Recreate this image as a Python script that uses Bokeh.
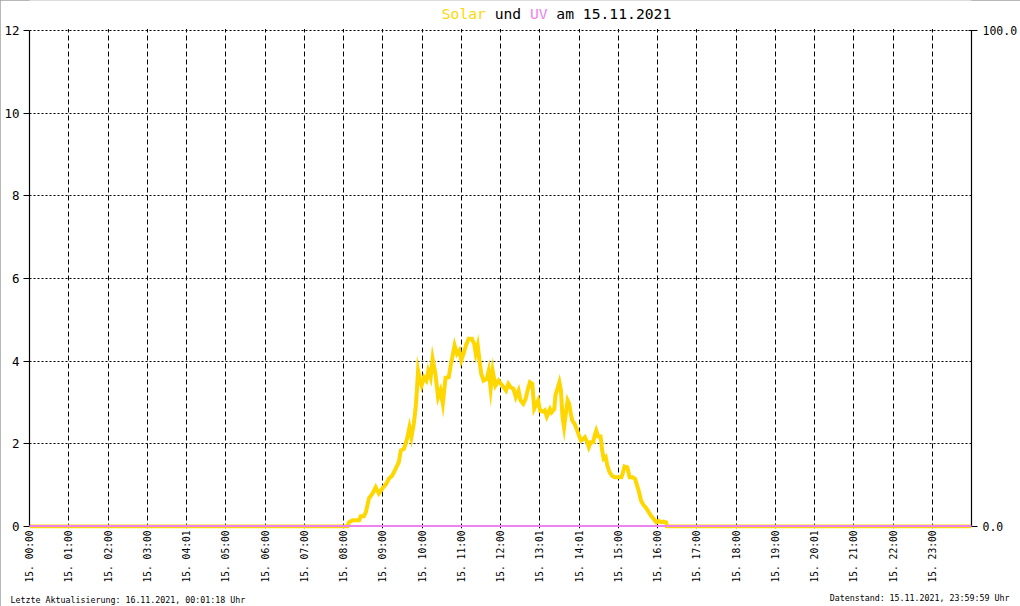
import math
from bokeh.plotting import figure
from bokeh.core.properties import value
from bokeh.models import (Range1d, LinearAxis, FixedTicker, NumeralTickFormatter,
                          Label, LabelSet, ColumnDataSource, BoxAnnotation,
                          GlobalInlineStyleSheet)
from bokeh.embed import file_html
from bokeh.resources import INLINE

# ---------------- data ----------------
hour_ticks = list(range(24))
hour_labels = ["00:00", "01:00", "02:00", "03:00", "04:01", "05:00", "06:00", "07:00",
               "08:00", "09:00", "10:00", "11:00", "12:00", "13:01", "14:01", "15:00",
               "16:00", "17:00", "18:00", "19:00", "20:01", "21:00", "22:00", "23:00"]
day_prefix = "15. "

solar_hours = [0.0, 8.10, 8.14, 8.23, 8.40, 8.44, 8.52, 8.57, 8.65, 8.74, 8.82, 8.90, 8.99,
               9.08, 9.16, 9.24, 9.33, 9.41, 9.46, 9.54, 9.62, 9.68, 9.73, 9.79, 9.84,
               9.87, 9.90, 9.95, 9.99, 10.05, 10.11, 10.16, 10.22, 10.27, 10.34, 10.41,
               10.47, 10.53, 10.60, 10.68, 10.74, 10.79, 10.83, 10.89, 10.95, 11.00,
               11.06, 11.12, 11.19, 11.27, 11.33, 11.37, 11.42, 11.47, 11.51, 11.57,
               11.65, 11.70, 11.75, 11.80, 11.87, 11.95, 12.01, 12.08, 12.14, 12.20,
               12.26, 12.33, 12.39, 12.46, 12.51, 12.58, 12.64, 12.69, 12.75, 12.81,
               12.86, 12.92, 12.96, 13.01, 13.09, 13.13, 13.18, 13.26, 13.30, 13.37,
               13.40, 13.45, 13.50, 13.54, 13.58, 13.62, 13.67, 13.71, 13.75, 13.79,
               13.83, 13.89, 13.94, 14.00, 14.05, 14.11, 14.15, 14.21, 14.25, 14.30,
               14.36, 14.40, 14.44, 14.49, 14.55, 14.59, 14.63, 14.68, 14.72, 14.78,
               14.84, 14.91, 14.99, 15.08, 15.12, 15.16, 15.23, 15.29, 15.37, 15.43,
               15.48, 15.52, 15.58, 15.65, 15.71, 15.75, 15.80, 15.86, 15.92, 15.97,
               16.03, 16.09, 16.15, 16.22, 16.24, 24.0]
solar_values = [0.0, 0.0, 0.10, 0.15, 0.15, 0.25, 0.25, 0.35, 0.68, 0.80, 0.95, 0.80, 0.92,
                1.02, 1.16, 1.23, 1.40, 1.56, 1.84, 1.88, 2.12, 2.40, 2.16, 2.48, 2.89,
                3.29, 3.77, 3.53, 3.41, 3.61, 3.53, 3.77, 3.60, 4.06, 3.70, 3.13,
                3.29, 2.97, 3.60, 3.61, 3.94, 4.18, 4.38, 4.18, 4.26, 4.02,
                4.18, 4.38, 4.54, 4.54, 4.42, 4.18, 4.38, 3.98, 3.69, 3.53,
                3.57, 3.77, 3.33, 3.77, 3.41, 3.53, 3.45, 3.37, 3.29, 3.45,
                3.37, 3.33, 3.13, 3.29, 3.05, 2.97, 3.09, 3.29, 3.49, 3.45,
                2.85, 2.97, 3.05, 2.80, 2.78, 2.81, 2.66, 2.84, 2.76, 2.84,
                3.17, 3.33, 3.49, 3.29, 2.65, 2.40, 2.78, 3.05, 2.97, 2.73,
                2.56, 2.48, 2.36, 2.20, 2.08, 2.12, 2.16, 2.04, 1.92, 2.04,
                2.04, 2.20, 2.32, 2.18, 2.18, 1.84, 1.64, 1.68, 1.48, 1.31,
                1.23, 1.19, 1.19, 1.19, 1.31, 1.45, 1.43, 1.19, 1.19, 1.15,
                0.99, 0.87, 0.63, 0.51, 0.45, 0.39, 0.31, 0.23, 0.16, 0.10,
                0.14, 0.10, 0.12, 0.10, 0.0, 0.0]

uv_hours = [0.0, 24.0]
uv_values = [0.0, 0.0]

solar_ticks = [0, 2, 4, 6, 8, 10, 12]
uv_ticks = [0, 100]

title_texts = ["Solar", "und", "UV", "am 15.11.2021"]
title_colors = ["#FFD700", "black", "#EE82EE", "black"]
footer_left = "Letzte Aktualisierung: 16.11.2021, 00:01:18 Uhr"
footer_right = "Datenstand: 15.11.2021, 23:59:59 Uhr"

MONO = "DejaVu Sans Mono"

# ---------------- layout constants (pixels) ----------------
W, H = 1020, 606
FRAME_L, FRAME_R, FRAME_B = 29, 975, 528      # frame reaches the top of the canvas
TOP_Y, ZERO_Y = 30, 526                        # pixel rows of value 12 and value 0
px_per_h = (FRAME_R - FRAME_L) / 24.0
px_per_v = (ZERO_Y - TOP_Y) / 12.0
solar_lo = -(FRAME_B - ZERO_Y) / px_per_v
solar_hi = 12 + TOP_Y / px_per_v
UV_ZERO_Y = ZERO_Y - 0.5
uv_px = (UV_ZERO_Y - TOP_Y) / 100.0
uv_lo = -(FRAME_B - UV_ZERO_Y) / uv_px
uv_hi = 100 + TOP_Y / uv_px

# ---------------- figure ----------------
p = figure(width=W, height=H, output_backend="svg", toolbar_location=None,
           x_range=Range1d(0, 24), y_range=Range1d(solar_lo, solar_hi),
           min_border_left=FRAME_L, min_border_right=W - FRAME_R,
           min_border_top=0, min_border_bottom=H - FRAME_B,
           background_fill_color="white", border_fill_color="white")
p.outline_line_color = None
p.extra_y_ranges = {"uv": Range1d(uv_lo, uv_hi)}

p.stylesheets = [GlobalInlineStyleSheet(css="html, body { margin: 0 !important; padding: 0; overflow: hidden; }")]
p.styles = {"outline": "1px solid #a0a0a0", "outline-offset": "-1px"}

# grids
p.xgrid.ticker = FixedTicker(ticks=hour_ticks)
p.xgrid.grid_line_color = "black"
p.xgrid.grid_line_dash = "5 3"
p.ygrid.ticker = FixedTicker(ticks=solar_ticks[1:])
p.ygrid.grid_line_color = "black"
p.ygrid.grid_line_dash = "2 2"

# bottom axis
xa = p.xaxis[0]
xa.ticker = FixedTicker(ticks=hour_ticks)
xa.major_label_overrides = {h: day_prefix + lbl for h, lbl in zip(hour_ticks, hour_labels)}
xa.major_label_orientation = math.pi / 2
xa.axis_line_color = None
xa.major_tick_line_color = None
xa.minor_tick_line_color = None
xa.major_tick_out = 0
xa.major_tick_in = 0
xa.minor_tick_out = 0
xa.minor_tick_in = 0
xa.major_label_standoff = 2
xa.major_label_text_font = MONO
xa.major_label_text_font_size = "9.6px"
xa.major_label_text_color = "black"

# left axis
ya = p.yaxis[0]
ya.ticker = FixedTicker(ticks=solar_ticks)
ya.bounds = (0, 12)
ya.axis_line_color = "black"
ya.axis_line_width = 1.2
ya.major_tick_line_color = "black"
ya.major_tick_out = 6
ya.major_tick_in = 0
ya.minor_tick_line_color = None
ya.major_label_standoff = 4
ya.major_label_text_font = MONO
ya.major_label_text_font_size = "12.5px"
ya.major_label_text_color = "black"

# right axis
ra = LinearAxis(y_range_name="uv", ticker=FixedTicker(ticks=uv_ticks),
                formatter=NumeralTickFormatter(format="0.0"), bounds=(0, 100))
ra.axis_line_color = "black"
ra.axis_line_width = 1.2
ra.major_tick_line_color = "black"
ra.major_tick_out = 6
ra.major_tick_in = 3
ra.minor_tick_line_color = None
ra.major_label_standoff = 5
ra.major_label_text_font = MONO
ra.major_label_text_font_size = "11.5px"
ra.major_label_text_color = "black"
p.add_layout(ra, "right")

# white mask above the value 12 (title band inside the frame)
p.add_layout(BoxAnnotation(bottom=12 + 1.5 / px_per_v, fill_color="white", fill_alpha=1.0,
                           line_alpha=0))

# lines
p.line(solar_hours, solar_values, line_color="#FFD700", line_width=4, line_join="miter")
p.line(uv_hours, uv_values, y_range_name="uv", line_color="#EE82EE", line_width=2,
       level="overlay")

# title: coloured parts in the band above the plot area (data units)
title_size = 14.7
cw = 0.6021 * title_size
xs, pos = [], 0
for t in title_texts:
    xs.append((443.0 - FRAME_L + pos * cw) / px_per_h)
    pos += len(t) + 1
title_src = ColumnDataSource(dict(x=xs, y=[12 + (TOP_Y - 13) / px_per_v] * len(title_texts),
                                  text=title_texts, color=title_colors))
p.add_layout(LabelSet(source=title_src, x="x", y="y", text="text", text_color="color",
                      text_font=value(MONO), text_font_size=value(f"{title_size}px"),
                      text_baseline="middle", text_align="left"))

# footers: two labels in the bottom panel, both moved onto the row y = 598
FOOT_Y = 598
foot_h = 11.5
axis_h = 2 + 9 * 0.6021 * 9.6
f1_bottom = FRAME_B + axis_h + foot_h
f2_bottom = f1_bottom + foot_h
p.add_layout(Label(x=10 - FRAME_L, y=f1_bottom - FOOT_Y, x_units="screen", y_units="screen",
                   text=footer_left, text_color="black", text_font=MONO,
                   text_font_size="8.3px", text_baseline="middle", text_align="left",
                   text_line_height=1.0), "below")
p.add_layout(Label(x=1009 - FRAME_L, y=f2_bottom - FOOT_Y, x_units="screen", y_units="screen",
                   text=footer_right, text_color="black", text_font=MONO,
                   text_font_size="8.3px", text_baseline="middle", text_align="right",
                   text_line_height=1.0), "below")

open("out.html", "w").write(file_html(p, INLINE))
